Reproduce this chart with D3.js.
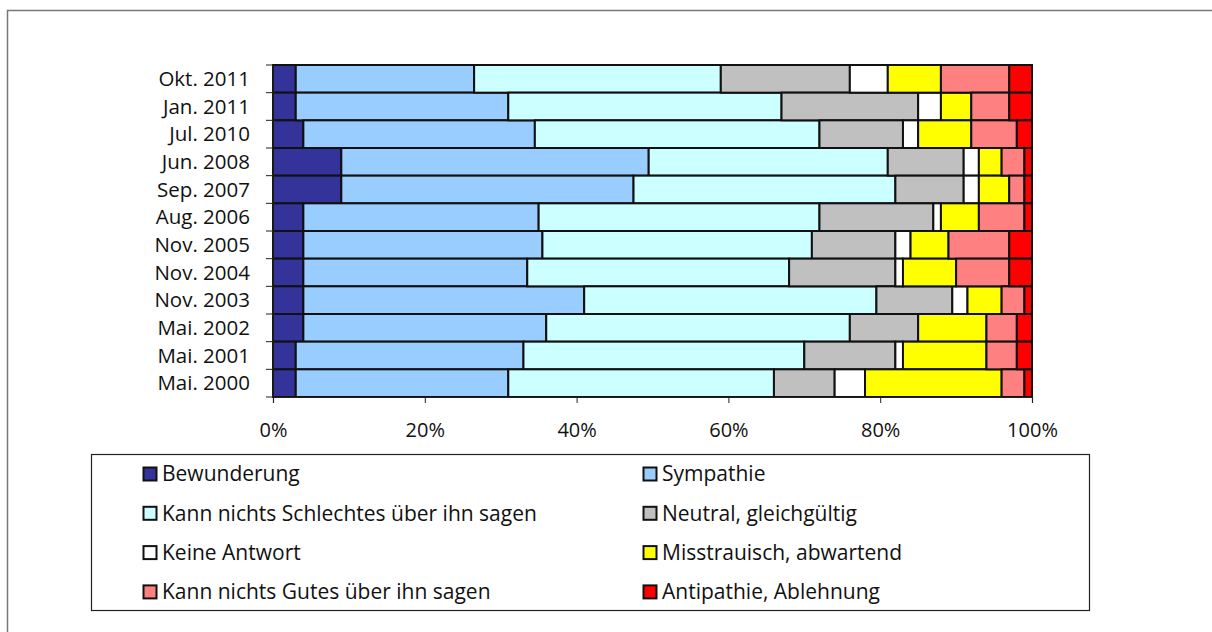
<!DOCTYPE html>
<meta charset="utf-8">
<style>
body {
  margin: 0;
  font-family: "Open Sans", sans-serif;
  background: #fff;
}
text {
  fill: #111;
}
.seg {
  stroke: #111;
  stroke-width: 2;
}
.axis path, .axis line {
  stroke: #222;
}
</style>
<body>
<script src="https://cdn.jsdelivr.net/npm/d3@7"></script>
<script>

var width = 1212,
    height = 632;

var dates = ["Okt. 2011", "Jan. 2011", "Jul. 2010", "Jun. 2008", "Sep. 2007", "Aug. 2006",
             "Nov. 2005", "Nov. 2004", "Nov. 2003", "Mai. 2002", "Mai. 2001", "Mai. 2000"];

var answers = ["Bewunderung", "Sympathie", "Kann nichts Schlechtes über ihn sagen",
               "Neutral, gleichgültig", "Keine Antwort", "Misstrauisch, abwartend",
               "Kann nichts Gutes über ihn sagen", "Antipathie, Ablehnung"];

var colors = ["#333399", "#99ccff", "#ccffff", "#c0c0c0", "#ffffff", "#ffff00", "#ff8080", "#ff0000"];

// one row per survey, values in percent, same order as answers
var bewunderung  = [3, 3, 4, 9, 9, 4, 4, 4, 4, 4, 3, 3];
var sympathie    = [23.5, 28, 30.5, 40.5, 38.5, 31, 31.5, 29.5, 37, 32, 30, 28];
var nichtsSchl   = [32.5, 36, 37.5, 31.5, 34.5, 37, 35.5, 34.5, 38.5, 40, 37, 35];
var neutral      = [17, 18, 11, 10, 9, 15, 11, 14, 10, 9, 12, 8];
var keineAntwort = [5, 3, 2, 2, 2, 1, 2, 1, 2, 0, 1, 4];
var misstrauisch = [7, 4, 7, 3, 4, 5, 5, 7, 4.5, 9, 11, 18];
var nichtsGutes  = [9, 5, 6, 3, 2, 6, 8, 7, 3, 4, 4, 3];
var antipathie   = [3, 3, 2, 1, 1, 1, 3, 3, 1, 2, 2, 1];

var series = [bewunderung, sympathie, nichtsSchl, neutral, keineAntwort, misstrauisch, nichtsGutes, antipathie];

var rows = dates.map(function(d, i) {
  var r = {date: d};
  answers.forEach(function(a, j) { r[a] = series[j][i]; });
  return r;
});

var stack = d3.stack().keys(answers)(rows);

var svg = d3.select("body").append("svg")
    .attr("width", width)
    .attr("height", height);

// outer frame (only top and left edges fall inside the picture)
svg.append("rect")
    .attr("x", 7.5)
    .attr("y", 10.5)
    .attr("width", 1300)
    .attr("height", 700)
    .attr("fill", "none")
    .attr("stroke", "#777")
    .attr("stroke-width", 1.5);

var x = d3.scaleLinear()
    .domain([0, 100])
    .range([273, 1032]);

var y = d3.scaleBand()
    .domain(dates)
    .range([65, 397])
    .padding(0);

var g = svg.append("g");

g.selectAll(".layer")
    .data(stack)
  .enter().append("g")
    .attr("class", "layer")
    .attr("fill", function(d, i) { return colors[i]; })
  .selectAll("rect")
    .data(function(d) { return d; })
  .enter().append("rect")
    .attr("class", "seg")
    .attr("x", function(d) { return x(d[0]); })
    .attr("y", function(d) { return y(d.data.date); })
    .attr("width", function(d) { return x(d[1]) - x(d[0]); })
    .attr("height", y.bandwidth())
    .style("display", function(d) { return d[1] - d[0] > 0 ? null : "none"; });

// axes
var xAxis = svg.append("g")
    .attr("class", "axis")
    .attr("transform", "translate(0," + 397 + ")")
    .call(d3.axisBottom(x)
      .tickValues([0, 20, 40, 60, 80, 100])
      .tickFormat(function(d) { return d + "%"; })
      .tickSize(6)
      .tickPadding(20));

xAxis.select(".domain").attr("stroke-width", 1.2);
xAxis.selectAll("text")
    .style("font-size", "20px")
    .style("font-family", "'Open Sans', sans-serif")
    .attr("fill", "#111");

var yAxis = svg.append("g")
    .attr("class", "axis")
    .attr("transform", "translate(" + 273 + ",0)");

yAxis.append("line")
    .attr("y1", 65)
    .attr("y2", 397)
    .attr("stroke", "#222");

yAxis.selectAll(".tick")
    .data(d3.range(dates.length + 1))
  .enter().append("line")
    .attr("x1", -7)
    .attr("x2", 0)
    .attr("y1", function(i) { return 65 + i * y.step(); })
    .attr("y2", function(i) { return 65 + i * y.step(); })
    .attr("stroke", "#222");

yAxis.selectAll(".label")
    .data(dates)
  .enter().append("text")
    .attr("class", "label")
    .attr("x", -23)
    .attr("y", function(d) { return y(d) + y.bandwidth() / 2; })
    .attr("dy", "0.35em")
    .attr("text-anchor", "end")
    .style("font-size", "20.5px")
    .text(function(d) { return d; });

// legend
var legend = svg.append("g");

legend.append("rect")
    .attr("x", 91.5)
    .attr("y", 454.5)
    .attr("width", 998)
    .attr("height", 156)
    .attr("fill", "#fff")
    .attr("stroke", "#222")
    .attr("stroke-width", 1.2);

var item = legend.selectAll(".item")
    .data(answers)
  .enter().append("g")
    .attr("class", "item")
    .attr("transform", function(d, i) {
      return "translate(" + (i % 2 ? 643 : 143) + "," + (474 + Math.floor(i / 2) * 39.3) + ")";
    });

item.append("rect")
    .attr("x", 0.5)
    .attr("y", -6.5)
    .attr("width", 13)
    .attr("height", 13)
    .attr("fill", function(d, i) { return colors[i]; })
    .attr("stroke", "#111")
    .attr("stroke-width", 2);

item.append("text")
    .attr("x", 19)
    .attr("dy", "0.35em")
    .style("font-size", "21px")
    .text(function(d) { return d; });

</script>
